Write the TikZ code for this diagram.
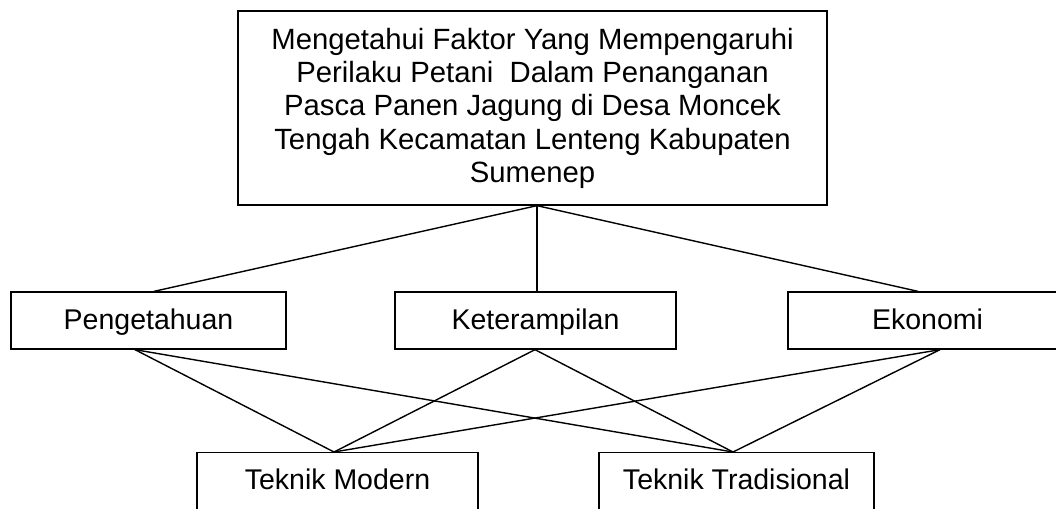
\documentclass[tikz,border=0pt]{standalone}
\usepackage{fontspec}
\setmainfont{Liberation Sans}
\begin{document}
\begin{tikzpicture}[x=1pt,y=-1pt,
  box/.style={draw=black,line width=1.3pt,fill=white,inner sep=0pt,
    font=\fontsize{28.5}{34}\selectfont},
  lbl/.style={inner sep=0pt,text height=21pt,text depth=4pt,font=\fontsize{28.5}{34}\selectfont},
  link/.style={draw=black,line width=1.4pt}]
\useasboundingbox (0,0) rectangle (1056,508);
% top
\node[box,minimum width=589pt,minimum height=194pt] (top) at (532.5,108) {};
\node[inner sep=0pt,anchor=north,align=center,font=\fontsize{29.3}{33.2}\selectfont] (topt) at (532.5,27.3)
  {\rule{0pt}{22pt}Mengetahui Faktor Yang Mempengaruhi\\Perilaku Petani\ \ Dalam Penanganan\\Pasca Panen Jagung di Desa Moncek\\Tengah Kecamatan Lenteng Kabupaten\\Sumenep};
% middle
\node[box,minimum width=275pt,minimum height=57pt] (peng) at (148.5,320.5) {};
\node[box,minimum width=281pt,minimum height=57pt] (ket) at (535.5,320.5) {};
\node[box,minimum width=279pt,minimum height=57pt] (eko) at (927.5,320.5) {};
\node[lbl] (pengt) at (148.5,320.5) {Pengetahuan};
\node[lbl] (kett) at (535.5,320.5) {Keterampilan};
\node[lbl] (ekot) at (927.5,320.5) {Ekonomi};
% bottom (cut by the page edge)
\node[box,minimum width=281pt,minimum height=60pt,anchor=north] (tm) at (337.5,452) {};
\node[box,minimum width=275pt,minimum height=60pt,anchor=north] (tt) at (736.5,452) {};
\node[lbl,anchor=base] (tmt) at (337.5,489.5) {Teknik Modern};
\node[lbl,anchor=base] (ttt) at (736.5,489.5) {Teknik Tradisional};
% connection points
\coordinate (apex) at ([xshift=4.5pt]top.south);
\coordinate (pengN) at ([xshift=5.5pt]peng.north);
\coordinate (ketN) at ([xshift=1.5pt]ket.north);
\coordinate (ekoN) at ([xshift=-9.5pt]eko.north);
\coordinate (pengS) at ([xshift=-13.5pt]peng.south);
\coordinate (ketS) at ([xshift=-0.5pt]ket.south);
\coordinate (ekoS) at ([xshift=12.5pt]eko.south);
\coordinate (tmN) at ([xshift=-3.5pt]tm.north);
\coordinate (ttN) at ([xshift=-3.5pt]tt.north);
% connectors
\draw[link] (apex) -- (pengN);
\draw[link] (apex) -- (ketN);
\draw[link] (apex) -- (ekoN);
\draw[link] (pengS) -- (tmN);
\draw[link] (pengS) -- (ttN);
\draw[link] (ketS) -- (tmN);
\draw[link] (ketS) -- (ttN);
\draw[link] (ekoS) -- (tmN);
\draw[link] (ekoS) -- (ttN);
\end{tikzpicture}
\end{document}
